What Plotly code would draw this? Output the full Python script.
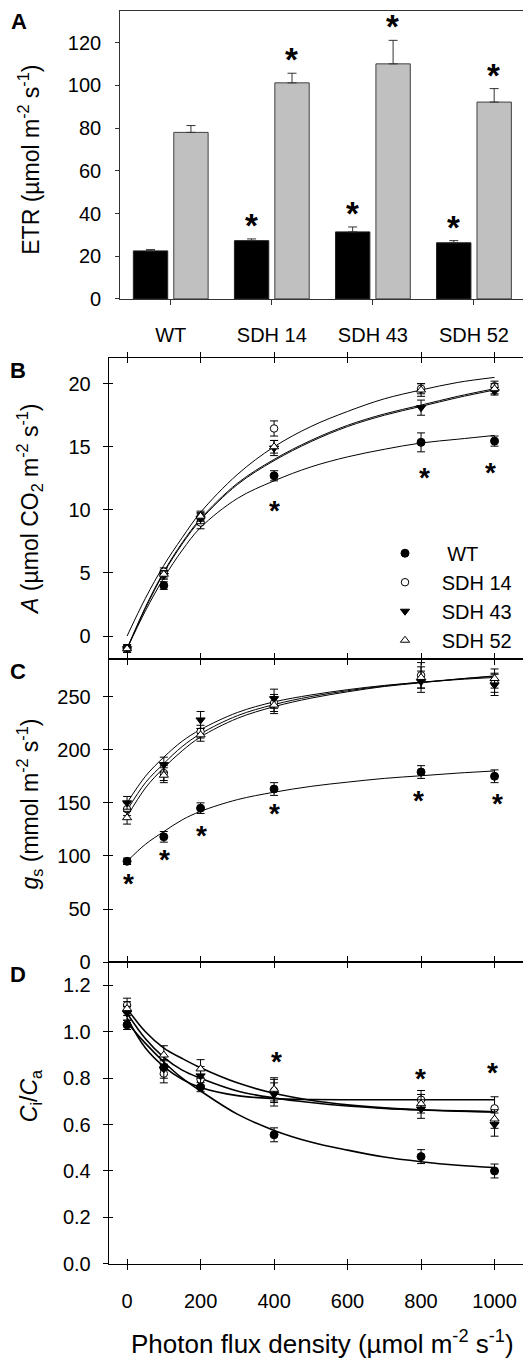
import plotly.graph_objects as go

FONT = "Liberation Sans, Arial, sans-serif"
W, H = 531, 1362

# ---------------- Panel A data (ETR bars) ----------------
genotypes = ["WT", "SDH 14", "SDH 43", "SDH 52"]
etr_dark = [22.5, 27.3, 31.4, 26.3]
etr_dark_err = [0.6, 0.8, 2.3, 1.0]
etr_light = [78.0, 101.2, 110.1, 92.2]
etr_light_err = [3.2, 4.5, 11.0, 6.3]
etr_dark_sig = [False, True, True, True]
etr_light_sig = [False, True, True, True]

# ---------------- Panels B-D data ----------------
pfd = [0, 100, 200, 400, 800, 1000]
series_names = ["WT", "SDH 14", "SDH 43", "SDH 52"]

A_WT = [-1.0, 4.0, 9.4, 12.7, 15.35, 15.45]
A_SDH14 = [-1.0, 5.1, 9.0, 16.45, 19.6, 19.8]
A_SDH43 = [-1.0, 4.8, 9.3, 14.9, 18.1, 19.4]
A_SDH52 = [-1.0, 4.9, 9.5, 15.0, 19.5, 19.6]
A_WT_err = [0.3, 0.3, 0.4, 0.4, 0.75, 0.4]
A_SDH14_err = [0.3, 0.3, 0.5, 0.6, 0.4, 0.4]
A_SDH43_err = [0.3, 0.3, 0.4, 0.6, 0.6, 0.3]
A_SDH52_err = [0.3, 0.3, 0.4, 0.5, 0.5, 0.4]

gs_WT = [95, 118, 145, 163, 179, 175]
gs_SDH14 = [144, 178, 217, 244, 270, 263]
gs_SDH43 = [150, 186, 228, 248, 264, 261]
gs_SDH52 = [136, 176, 214, 242, 268, 267]
gs_WT_err = [3, 5, 5, 6, 6, 6]
gs_SDH14_err = [6, 7, 6, 8, 12, 9]
gs_SDH43_err = [6, 7, 8, 9, 10, 10]
gs_SDH52_err = [6, 7, 6, 8, 10, 9]

cc_WT = [1.03, 0.845, 0.762, 0.556, 0.462, 0.40]
cc_SDH14 = [1.115, 0.82, 0.795, 0.745, 0.707, 0.67]
cc_SDH43 = [1.08, 0.84, 0.81, 0.73, 0.667, 0.60]
cc_SDH52 = [1.10, 0.90, 0.84, 0.752, 0.69, 0.624]
cc_WT_err = [0.02, 0.03, 0.02, 0.03, 0.03, 0.03]
cc_SDH14_err = [0.03, 0.04, 0.04, 0.05, 0.04, 0.05]
cc_SDH43_err = [0.03, 0.04, 0.04, 0.05, 0.04, 0.05]
cc_SDH52_err = [0.03, 0.04, 0.04, 0.05, 0.04, 0.04]

# fitted curves
fit_x = [0, 50, 100, 150, 200, 300, 400, 500, 600, 700, 800, 900, 1000]
A_fit_WT = [-1.0, 2.0, 4.6, 6.8, 8.6, 10.9, 12.3, 13.4, 14.2, 14.8, 15.3, 15.6, 15.9]
A_fit_SDH14 = [0.0, 3.0, 5.6, 7.8, 9.8, 12.8, 15.0, 16.6, 17.8, 18.8, 19.5, 20.1, 20.5]
A_fit_SDH43 = [-1.0, 2.2, 5.0, 7.3, 9.2, 12.0, 13.9, 15.4, 16.6, 17.5, 18.2, 18.9, 19.5]
A_fit_SDH52 = [-1.0, 2.3, 5.1, 7.4, 9.3, 12.1, 14.0, 15.5, 16.7, 17.6, 18.3, 19.0, 19.6]

gs_fit_WT = [95, 111, 123, 134, 142, 153, 160, 165.5, 169.5, 173, 175.5, 178, 180]
gs_fit_SDH14 = [143, 169, 187, 203, 215, 232, 242.5, 250, 255.5, 260, 263.5, 266.5, 269]
gs_fit_SDH43 = [150, 175, 193, 208, 219, 235, 245, 251.5, 256.5, 260.5, 263.5, 266, 268]
gs_fit_SDH52 = [137, 164, 183, 199, 212, 229.5, 240.5, 248.5, 254.5, 259.5, 263, 266.5, 269.5]

cc_fit_WT = [1.04, 0.95, 0.87, 0.80, 0.745, 0.645, 0.575, 0.525, 0.49, 0.46, 0.44, 0.425, 0.415]
cc_fit_SDH14 = [1.06, 0.93, 0.85, 0.795, 0.76, 0.725, 0.712, 0.708, 0.707, 0.707, 0.707, 0.707, 0.707]
cc_fit_SDH43 = [1.08, 0.97, 0.89, 0.835, 0.80, 0.745, 0.715, 0.695, 0.68, 0.67, 0.663, 0.658, 0.655]
cc_fit_SDH52 = [1.10, 1.00, 0.93, 0.885, 0.845, 0.78, 0.735, 0.705, 0.685, 0.672, 0.664, 0.659, 0.655]

# significance asterisks (positions)
A_sig_x = [400, 810, 988]
A_sig_y = [10.0, 12.6, 13.0]
gs_sig_x = [5, 102, 203, 401, 794, 1008]
gs_sig_y = [75, 97.5, 119.7, 140, 153, 150]
cc_sig_x = [406, 798, 995]
cc_sig_y = [0.873, 0.80, 0.826]

# ---------------- layout geometry ----------------
def px_x(a, b):
    return [a / W, b / W]

def px_y(top, bottom):
    return [1 - bottom / H, 1 - top / H]

domA_x = px_x(112.2, 516.5)
domA_y = px_y(2.7, 293.3)
domL_x = px_x(100.7, 523.3)
domB_y = px_y(353.3, 656.7)
domC_y = px_y(656.7, 962.0)
domD_y = px_y(962.0, 1266.0)

fig = go.Figure()

# ---------------- Panel A ----------------
fig.add_trace(go.Bar(
    x=genotypes, y=etr_dark, name="ETR dark", xaxis="x", yaxis="y",
    marker=dict(color="black", line=dict(color="#222222", width=1)),
    error_y=dict(type="data", array=etr_dark_err, arrayminus=[0] * 4, symmetric=False,
                 color="#333333", thickness=1, width=4.5),
    showlegend=False, hoverinfo="skip"))
fig.add_trace(go.Bar(
    x=genotypes, y=etr_light, name="ETR light", xaxis="x", yaxis="y",
    marker=dict(color="#c0c0c0", line=dict(color="#404040", width=1)),
    error_y=dict(type="data", array=etr_light_err, arrayminus=[0] * 4, symmetric=False,
                 color="#333333", thickness=1, width=4.5),
    showlegend=False, hoverinfo="skip"))

annotations = []
for i, g in enumerate(genotypes):
    if etr_dark_sig[i]:
        annotations.append(dict(x=g, y=etr_dark[i] + etr_dark_err[i], xref="x", yref="y",
                                text="<b>*</b>", showarrow=False, xshift=-20, yshift=14,
                                yanchor="middle", height=26, valign="middle",
                                font=dict(family=FONT, size=33, color="black")))
    if etr_light_sig[i]:
        annotations.append(dict(x=g, y=etr_light[i] + etr_light_err[i], xref="x", yref="y",
                                text="<b>*</b>", showarrow=False, xshift=20, yshift=14,
                                yanchor="middle", height=26, valign="middle",
                                font=dict(family=FONT, size=33, color="black")))

# ---------------- Panels B-D ----------------
styles = {
    "WT": dict(symbol="circle", color="black", size=8),
    "SDH 14": dict(symbol="circle", color="white", size=7.5),
    "SDH 43": dict(symbol="triangle-down", color="black", size=8),
    "SDH 52": dict(symbol="triangle-up", color="white", size=8),
}

panels = [
    ("x2", "y2", [A_fit_WT, A_fit_SDH14, A_fit_SDH43, A_fit_SDH52],
     [A_WT, A_SDH14, A_SDH43, A_SDH52], [A_WT_err, A_SDH14_err, A_SDH43_err, A_SDH52_err],
     A_sig_x, A_sig_y, 1.0, True),
    ("x3", "y3", [gs_fit_WT, gs_fit_SDH14, gs_fit_SDH43, gs_fit_SDH52],
     [gs_WT, gs_SDH14, gs_SDH43, gs_SDH52], [gs_WT_err, gs_SDH14_err, gs_SDH43_err, gs_SDH52_err],
     gs_sig_x, gs_sig_y, 1.0, False),
    ("x4", "y4", [cc_fit_WT, cc_fit_SDH14, cc_fit_SDH43, cc_fit_SDH52],
     [cc_WT, cc_SDH14, cc_SDH43, cc_SDH52], [cc_WT_err, cc_SDH14_err, cc_SDH43_err, cc_SDH52_err],
     cc_sig_x, cc_sig_y, 1.6, False),
]

for xa, ya, fits, vals, errs, sx, sy, lw, legend in panels:
    for fy in fits:
        fig.add_trace(go.Scatter(x=fit_x, y=fy, mode="lines", xaxis=xa, yaxis=ya,
                                 line=dict(color="black", width=lw, shape="spline", smoothing=1.0),
                                 showlegend=False, hoverinfo="skip"))
    for name, v, e in zip(series_names, vals, errs):
        st = styles[name]
        fig.add_trace(go.Scatter(
            x=pfd, y=v, mode="markers", xaxis=xa, yaxis=ya,
            name=name, legendgroup=name, showlegend=legend,
            marker=dict(symbol=st["symbol"], size=st["size"], color=st["color"],
                        line=dict(color="black", width=1)),
            error_y=dict(type="data", array=e, color="black", thickness=1, width=4),
            hoverinfo="skip"))
    for x0, y0 in zip(sx, sy):
        annotations.append(dict(x=x0, y=y0, xref=xa, yref=ya, text="<b>*</b>", showarrow=False,
                                yanchor="middle", yshift=0, height=22, valign="middle",
                                font=dict(family=FONT, size=28, color="black")))

# dummy traces for overlay tick axes
for xa, ya in [("x2", "y5"), ("x3", "y6"), ("x4", "y7"), ("x5", "y4")]:
    fig.add_trace(go.Scatter(x=[None], y=[None], xaxis=xa, yaxis=ya, showlegend=False,
                             hoverinfo="skip"))

tickfont = dict(family=FONT, size=20, color="black")

layout = dict(
    width=W, height=H, margin=dict(l=0, r=0, t=0, b=0),
    paper_bgcolor="white", plot_bgcolor="white",
    font=dict(family=FONT, size=20, color="black"),
    barmode="group", bargap=0.2, bargroupgap=0.15,
    showlegend=True,
    legend=dict(x=377 / W, y=1 - 530 / H, xanchor="left", yanchor="top",
                bgcolor="rgba(0,0,0,0)", font=dict(family=FONT, size=20, color="black"),
                tracegroupgap=0, itemsizing="trace"),
    xaxis=dict(domain=domA_x, anchor="y", type="category", range=[-0.5, 3.5],
               showline=True, linecolor="#333333", linewidth=1, mirror=True,
               ticks="outside", ticklen=5, tickcolor="#333333", tickfont=tickfont,
               ticklabelstandoff=13, showgrid=False, zeroline=False, fixedrange=True),
    yaxis=dict(domain=domA_y, anchor="x", range=[0, 135], tickvals=[0, 20, 40, 60, 80, 100, 120],
               showline=True, linecolor="#333333", linewidth=1, mirror=True,
               ticks="outside", ticklen=4, tickcolor="#333333", tickfont=tickfont,
               ticklabelstandoff=10, showgrid=False, zeroline=False),
)

xcommon = dict(range=[-50, 1100], tickvals=[0, 200, 400, 600, 800, 1000],
               showline=True, linecolor="black", linewidth=1, mirror="allticks",
               ticks="inside", ticklen=5, tickcolor="black", showgrid=False, zeroline=False)
layout["xaxis2"] = dict(domain=domL_x, anchor="y2", showticklabels=False, **xcommon)
layout["xaxis3"] = dict(domain=domL_x, anchor="y3", showticklabels=False, **xcommon)
layout["xaxis4"] = dict(domain=domL_x, anchor="y4", showticklabels=True, tickfont=tickfont,
                        ticklabelstandoff=19, **xcommon)
layout["xaxis5"] = dict(domain=domL_x, anchor="y4", overlaying="x4", range=[-50, 1100],
                        tickvals=[0, 200, 400, 600, 800, 1000], showticklabels=False,
                        showline=False, ticks="outside", ticklen=5, tickcolor="black",
                        showgrid=False, zeroline=False)

ydefs = [
    ("yaxis2", "yaxis5", "x2", "y2", domB_y, [-1.85, 22], [0, 5, 10, 15, 20], None),
    ("yaxis3", "yaxis6", "x3", "y3", domC_y, [0, 285], [0, 50, 100, 150, 200, 250], None),
    ("yaxis4", "yaxis7", "x4", "y4", domD_y, [0, 1.3], [0, 0.2, 0.4, 0.6, 0.8, 1.0, 1.2], ".1f"),
]
for main, over, xa, ya, dom, rng, tv, fmt in ydefs:
    d = dict(domain=dom, anchor=xa, range=rng, tickvals=tv, showline=True, linecolor="black",
             linewidth=1, mirror="allticks", ticks="outside", ticklen=5, tickcolor="black",
             tickfont=tickfont, ticklabelstandoff=8, showgrid=False, zeroline=False)
    if fmt:
        d["tickformat"] = fmt
    layout[main] = d
    layout[over] = dict(domain=dom, anchor=xa, overlaying=ya, range=rng, tickvals=tv,
                        showline=False, mirror="allticks", ticks="inside", ticklen=4,
                        tickcolor="black", showticklabels=False, showgrid=False, zeroline=False)

# axis titles and panel letters
def ann_paper(text, xp, yp, size, angle=0, bold=False):
    return dict(text=("<b>%s</b>" % text) if bold else text, x=xp / W, y=1 - yp / H,
                xref="paper", yref="paper", showarrow=False, textangle=angle,
                xanchor="center", yanchor="middle",
                font=dict(family=FONT, size=size, color="black"))

annotations += [
    ann_paper("ETR (µmol m<sup>-2</sup> s<sup>-1</sup>)", 21, 153, 23, -90),
    ann_paper("<i>A</i> (µmol CO<sub>2</sub> m<sup>-2</sup> s<sup>-1</sup>)", 21, 506, 23, -90),
    ann_paper("<i>g</i><sub>s</sub> (mmol m<sup>-2</sup> s<sup>-1</sup>)", 21, 803, 23, -90),
    ann_paper("<i>C</i><sub>i</sub>/<i>C</i><sub>a</sub>", 22, 1097, 23, -90),
    ann_paper("Photon flux density (µmol m<sup>-2</sup> s<sup>-1</sup>)", 314, 1345, 26),
    ann_paper("A", 11, 14, 22, bold=True),
    ann_paper("B", 10, 365, 22, bold=True),
    ann_paper("C", 10, 669, 22, bold=True),
    ann_paper("D", 10, 974, 22, bold=True),
]
layout["annotations"] = annotations

fig.update_layout(**layout)

# legend labels with leading spacing as in the reference
for tr in fig.data:
    if getattr(tr, "showlegend", None) and tr.name in series_names:
        tr.name = ("\u00a0" * 4 if tr.name == "WT" else "\u00a0" * 3) + tr.name

fig.write_html("out.html")
